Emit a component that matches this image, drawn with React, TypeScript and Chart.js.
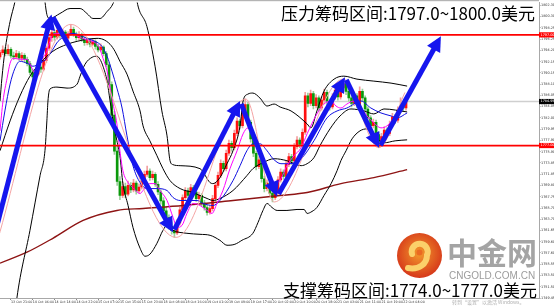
import React, { useEffect, useRef } from 'react';
import { Chart, registerables } from 'chart.js';

Chart.register(...registerables);

// ---------- candle data (H1 bars, index 0..149) ----------
const opens = [
  1793.0, 1793.8, 1794.3, 1793.6, 1794.4, 1793.2, 1793.0, 1793.6, 1792.8, 1793.3,
  1792.6, 1791.8, 1790.2, 1789.4, 1789.9, 1791.2, 1790.8, 1792.4, 1794.6, 1796.5,
  1797.4, 1796.6, 1797.8, 1796.9, 1797.5, 1796.4, 1797.2, 1798.0, 1797.1, 1796.5,
  1797.0, 1796.2, 1795.6, 1796.0, 1795.3, 1795.8, 1794.9, 1794.3, 1794.8, 1793.6,
  1791.6, 1788.0, 1782.5, 1776.0, 1770.5, 1768.0, 1769.6, 1768.2, 1769.8, 1769.0,
  1770.2, 1768.8, 1769.5, 1770.6, 1771.8, 1772.4, 1771.2, 1771.8, 1770.0, 1768.6,
  1767.0, 1765.2, 1764.0, 1762.4, 1761.6, 1761.2, 1763.0, 1765.4, 1767.6, 1768.8,
  1768.0, 1769.4, 1768.6, 1767.4, 1768.0, 1766.6, 1765.8, 1764.9, 1765.6, 1767.4,
  1769.8, 1771.6, 1773.8, 1772.8, 1775.6, 1777.4, 1776.6, 1779.2, 1781.4, 1780.6,
  1783.2, 1784.4, 1781.2, 1778.2, 1775.6, 1773.2, 1774.4, 1771.0, 1769.2, 1770.2,
  1768.4, 1767.6, 1768.6, 1770.8, 1772.2, 1771.4, 1773.6, 1775.0, 1774.2, 1776.8,
  1778.0, 1777.2, 1779.4, 1786.0, 1784.6, 1786.4, 1784.2, 1785.6, 1783.8, 1785.2,
  1786.6, 1785.0, 1784.0, 1785.8, 1787.0, 1785.8, 1787.4, 1788.2, 1786.8, 1785.6,
  1784.6, 1786.0, 1784.4, 1786.8, 1785.6, 1783.6, 1782.0, 1780.6, 1781.2, 1779.0,
  1777.8, 1778.6, 1779.8, 1779.2, 1780.8, 1782.2, 1781.6, 1783.4, 1784.0, 1783.8,
];
const highs = [
  1794.2, 1795.0, 1794.8, 1795.2, 1794.7, 1793.9, 1794.2, 1794.0, 1793.8, 1793.6,
  1793.0, 1792.2, 1790.8, 1790.6, 1791.8, 1791.6, 1792.9, 1795.0, 1797.0, 1798.2,
  1797.9, 1798.4, 1798.1, 1798.0, 1797.8, 1797.6, 1798.9, 1798.4, 1797.5, 1797.6,
  1797.3, 1796.6, 1796.5, 1796.3, 1796.3, 1796.1, 1795.3, 1795.4, 1795.0, 1794.0,
  1792.0, 1788.5, 1783.2, 1777.0, 1771.4, 1770.4, 1770.2, 1770.6, 1770.3, 1770.9,
  1770.6, 1770.1, 1771.2, 1772.4, 1773.3, 1772.8, 1772.4, 1772.1, 1770.5, 1769.0,
  1767.6, 1765.9, 1764.5, 1763.2, 1762.3, 1763.6, 1765.9, 1768.1, 1769.4, 1769.3,
  1770.0, 1769.8, 1769.0, 1768.6, 1768.3, 1767.1, 1766.2, 1766.2, 1768.0, 1770.3,
  1772.2, 1774.4, 1774.2, 1776.2, 1778.0, 1777.8, 1779.8, 1782.0, 1781.8, 1783.8,
  1785.4, 1784.8, 1781.6, 1778.7, 1776.0, 1775.0, 1774.8, 1771.5, 1770.8, 1770.6,
  1768.9, 1769.2, 1771.4, 1772.8, 1772.6, 1774.2, 1775.6, 1775.4, 1777.4, 1778.6,
  1778.4, 1780.0, 1786.6, 1786.5, 1787.0, 1786.8, 1786.2, 1786.0, 1785.8, 1787.2,
  1787.0, 1785.4, 1786.4, 1787.6, 1787.4, 1788.0, 1789.0, 1788.6, 1787.2, 1786.0,
  1786.6, 1786.4, 1787.6, 1787.2, 1786.0, 1784.0, 1782.4, 1781.8, 1781.6, 1779.4,
  1779.2, 1780.4, 1780.2, 1781.4, 1782.8, 1782.6, 1784.0, 1785.6, 1784.4, 1786.0,
];
const lows = [
  1792.6, 1793.4, 1793.2, 1793.3, 1792.8, 1792.5, 1792.7, 1792.4, 1792.3, 1792.1,
  1791.4, 1789.8, 1788.6, 1789.0, 1789.6, 1790.2, 1790.5, 1792.0, 1794.2, 1795.8,
  1796.0, 1796.2, 1796.4, 1796.5, 1795.9, 1796.0, 1796.9, 1796.7, 1796.0, 1796.1,
  1795.8, 1795.1, 1795.2, 1794.8, 1795.0, 1794.4, 1793.9, 1794.0, 1793.2, 1791.2,
  1787.4, 1781.8, 1775.4, 1769.8, 1767.2, 1767.6, 1767.6, 1767.9, 1768.5, 1768.6,
  1768.2, 1768.4, 1769.1, 1770.2, 1771.4, 1770.7, 1770.8, 1769.6, 1768.1, 1766.4,
  1764.7, 1763.5, 1761.9, 1761.0, 1760.4, 1760.9, 1762.6, 1765.0, 1767.2, 1767.4,
  1767.6, 1768.0, 1766.9, 1767.0, 1766.1, 1765.3, 1764.4, 1764.6, 1765.2, 1767.0,
  1769.4, 1771.2, 1772.3, 1772.4, 1775.2, 1776.0, 1776.2, 1778.8, 1780.0, 1780.2,
  1782.8, 1780.6, 1777.6, 1775.0, 1772.6, 1772.8, 1770.4, 1768.6, 1768.8, 1767.8,
  1766.8, 1767.2, 1768.2, 1770.4, 1770.9, 1771.0, 1773.2, 1773.6, 1773.8, 1776.4,
  1776.6, 1776.8, 1779.0, 1784.0, 1784.2, 1783.6, 1783.8, 1783.2, 1783.4, 1784.8,
  1784.4, 1783.4, 1783.6, 1785.4, 1785.2, 1785.4, 1787.0, 1786.2, 1785.0, 1784.0,
  1784.2, 1783.8, 1784.0, 1785.0, 1783.0, 1781.4, 1780.0, 1780.2, 1778.4, 1776.6,
  1777.4, 1778.2, 1778.6, 1778.8, 1780.4, 1781.0, 1781.2, 1783.0, 1783.2, 1783.4,
];
const closes = [
  1793.8, 1794.3, 1793.6, 1794.4, 1793.2, 1793.0, 1793.6, 1792.8, 1793.3, 1792.6,
  1791.8, 1790.2, 1789.4, 1789.9, 1791.2, 1790.8, 1792.4, 1794.6, 1796.5, 1797.4,
  1796.6, 1797.8, 1796.9, 1797.5, 1796.4, 1797.2, 1798.0, 1797.1, 1796.5, 1797.0,
  1796.2, 1795.6, 1796.0, 1795.3, 1795.8, 1794.9, 1794.3, 1794.8, 1793.6, 1791.6,
  1788.0, 1782.5, 1776.0, 1770.5, 1768.0, 1769.6, 1768.2, 1769.8, 1769.0, 1770.2,
  1768.8, 1769.5, 1770.6, 1771.8, 1772.4, 1771.2, 1771.8, 1770.0, 1768.6, 1767.0,
  1765.2, 1764.0, 1762.4, 1761.6, 1761.2, 1763.0, 1765.4, 1767.6, 1768.8, 1768.0,
  1769.4, 1768.6, 1767.4, 1768.0, 1766.6, 1765.8, 1764.9, 1765.6, 1767.4, 1769.8,
  1771.6, 1773.8, 1772.8, 1775.6, 1777.4, 1776.6, 1779.2, 1781.4, 1780.6, 1783.2,
  1784.4, 1781.2, 1778.2, 1775.6, 1773.2, 1774.4, 1771.0, 1769.2, 1770.2, 1768.4,
  1767.6, 1768.6, 1770.8, 1772.2, 1771.4, 1773.6, 1775.0, 1774.2, 1776.8, 1778.0,
  1777.2, 1779.4, 1786.0, 1784.6, 1786.4, 1784.2, 1785.6, 1783.8, 1785.2, 1786.6,
  1785.0, 1784.0, 1785.8, 1787.0, 1785.8, 1787.4, 1788.2, 1786.8, 1785.6, 1784.6,
  1786.0, 1784.4, 1786.8, 1785.6, 1783.6, 1782.0, 1780.6, 1781.2, 1779.0, 1777.8,
  1778.6, 1779.8, 1779.2, 1780.8, 1782.2, 1781.6, 1783.4, 1784.0, 1783.8, 1784.95,
];

// ---------- indicator lines, [bar index, price] ----------
const upperBand: [number, number][] = [
  [0, 1785.04], [0.7, 1789.18], [1.8, 1794.03], [3.7, 1799.42], [5.5, 1803.02], [6.2, 1804.8],
  [10, 1809], [14, 1809], [16.1, 1804.8], [16.5, 1803.0], [17.2, 1800.68], [18.3, 1799.96],
  [22.0, 1800.86], [25.7, 1801.76], [29.4, 1801.76], [31.9, 1800.86], [34.1, 1799.96], [36.7, 1799.96],
  [39.3, 1801.22], [41.5, 1802.66], [42.9, 1804.8], [46, 1812], [49, 1808], [50.3, 1803.0],
  [53.9, 1798.53], [56.9, 1791.33], [59.4, 1783.25], [61.3, 1778.75], [62.4, 1774.26], [63.5, 1773.54],
  [66.1, 1773.36], [73.4, 1772.82], [77.1, 1770.3], [78.2, 1770.12], [80.7, 1771.2], [83.3, 1773.72],
  [85.5, 1776.06], [88.1, 1780.55], [89.2, 1785.04], [91.0, 1786.3], [92.8, 1786.48], [95.4, 1785.58],
  [98.0, 1784.14], [100.6, 1784.5], [102.8, 1783.96], [106.8, 1783.25], [112.7, 1780.91], [114.1, 1780.19],
  [116.3, 1783.25], [118.9, 1786.84], [122.6, 1789.0], [126.2, 1789.54], [131.0, 1789.0], [137.2, 1788.64],
  [143.5, 1788.28], [149.4, 1787.74],
];
const middleBand: [number, number][] = [
  [0, 1776.06], [3.7, 1781.45], [7.3, 1785.94], [11.0, 1789.54], [14.7, 1791.87], [19.4, 1794.03],
  [24.6, 1795.29], [28.3, 1795.83], [31.9, 1796.19], [35.6, 1796.37], [37.8, 1796.19], [40.4, 1795.29],
  [42.2, 1794.03], [44.0, 1792.23], [46.6, 1789.9], [48.8, 1786.84], [51.4, 1783.25], [52.5, 1780.55],
  [55.0, 1777.85], [57.6, 1775.16], [59.8, 1772.82], [62.4, 1770.66], [66.1, 1769.22], [70.8, 1768.51],
  [76.0, 1767.43], [78.2, 1767.07], [80.7, 1767.43], [85.5, 1768.87], [90.6, 1771.56], [92.8, 1772.82],
  [96.5, 1773.9], [100.6, 1774.62], [105.3, 1774.26], [110.5, 1773.36], [112.7, 1773.72], [115.2, 1774.8],
  [117.4, 1776.95], [121.1, 1780.01], [124.8, 1782.35], [128.8, 1783.61], [133.6, 1783.25], [137.2, 1782.71],
  [140.9, 1783.61], [149.4, 1783.07],
];
const lowerBand: [number, number][] = [
  [3, 1735], [6.2, 1749.45], [11.0, 1761.68], [14.7, 1771.56], [16.5, 1776.06], [17.2, 1781.45],
  [17.6, 1785.04], [18.3, 1787.2], [20.9, 1787.56], [24.6, 1787.38], [28.3, 1788.1], [29.4, 1789.54],
  [31.2, 1791.69], [33.8, 1792.95], [35.6, 1793.13], [36.7, 1792.59], [37.8, 1791.33], [39.3, 1788.64],
  [40.4, 1785.04], [41.5, 1781.45], [42.9, 1777.85], [44.0, 1775.16], [45.1, 1770.12], [47.0, 1766.17],
  [48.8, 1762.21], [51.4, 1758.44], [53.2, 1757.0], [55.0, 1757.36], [57.6, 1759.34], [59.8, 1761.68],
  [61.3, 1762.57], [63.5, 1761.68], [68.6, 1761.14], [73.4, 1760.96], [77.1, 1760.78], [80.7, 1759.88],
  [83.3, 1758.98], [86.2, 1759.16], [88.8, 1759.88], [92.8, 1761.14], [94.7, 1763.11], [96.5, 1765.27],
  [98.0, 1766.53], [99.8, 1765.81], [101.7, 1765.27], [105.3, 1765.27], [109.0, 1765.45], [111.6, 1765.45],
  [112.7, 1764.73], [114.5, 1765.09], [116.3, 1765.81], [118.9, 1767.97], [121.5, 1770.12], [123.7, 1772.46],
  [125.1, 1774.26], [127.0, 1776.06], [129.2, 1778.21], [132.1, 1779.65], [134.7, 1780.01], [137.2, 1778.75],
  [140.9, 1777.49], [145.0, 1777.85], [149.4, 1778.03],
];
const fastMA: [number, number][] = [
  [0, 1779.65], [1.1, 1785.04], [2.6, 1789.18], [3.7, 1791.87], [4.8, 1792.77], [7.3, 1792.59],
  [9.9, 1792.59], [11.7, 1790.98], [12.8, 1790.08], [13.9, 1790.98], [15.4, 1792.59], [17.2, 1794.03],
  [18.3, 1795.83], [19.4, 1797.09], [21.3, 1797.27], [23.9, 1797.09], [26.4, 1797.09], [28.6, 1796.73],
  [31.2, 1796.19], [33.8, 1795.83], [35.6, 1795.29], [36.7, 1794.39], [37.8, 1792.77], [39.3, 1790.44],
  [40.4, 1787.38], [41.5, 1784.5], [42.9, 1780.91], [44.0, 1776.06], [45.1, 1772.46], [47.0, 1770.3],
  [48.8, 1769.4], [51.4, 1768.33], [52.5, 1768.87], [55.0, 1770.12], [56.9, 1770.12], [58.7, 1768.87],
  [61.3, 1767.07], [63.5, 1764.01], [65.0, 1762.21], [66.8, 1762.57], [68.6, 1764.73], [70.8, 1766.53],
  [73.4, 1766.17], [76.0, 1765.27], [77.8, 1764.73], [79.6, 1766.53], [81.8, 1768.87], [84.4, 1772.82],
  [87.0, 1776.06], [89.2, 1779.11], [91.0, 1780.19], [92.8, 1779.65], [94.7, 1777.49], [96.5, 1774.62],
  [98.0, 1772.46], [100.2, 1770.66], [101.3, 1770.12], [103.1, 1771.02], [105.3, 1773.36], [107.9, 1775.16],
  [110.5, 1776.59], [112.7, 1779.11], [116.3, 1782.71], [118.9, 1784.5], [121.5, 1785.04], [123.3, 1784.14],
  [125.1, 1783.78], [127.3, 1784.5], [129.9, 1785.04], [132.5, 1783.78], [134.7, 1782.35], [137.2, 1781.09],
  [139.8, 1780.19], [142.0, 1780.55], [144.6, 1781.99], [147.2, 1783.78], [148.3, 1784.5],
];
const slowMA: [number, number][] = [
  [0, 1777.85], [1.8, 1783.25], [3.7, 1788.1], [5.5, 1790.98], [7.3, 1792.23], [9.9, 1791.87],
  [12.1, 1791.33], [14.7, 1791.87], [17.2, 1792.77], [19.4, 1794.39], [21.3, 1795.83], [23.9, 1796.73],
  [26.4, 1797.27], [28.6, 1797.09], [31.9, 1796.37], [34.9, 1795.83], [37.4, 1794.93], [39.3, 1793.13],
  [41.1, 1790.44], [42.9, 1787.38], [44.8, 1783.78], [46.6, 1778.75], [48.8, 1773.36], [51.4, 1770.3],
  [53.9, 1769.22], [57.6, 1769.22], [61.3, 1768.87], [63.5, 1767.61], [66.1, 1767.07], [68.6, 1767.07],
  [72.3, 1767.07], [74.5, 1766.53], [78.2, 1766.17], [80.7, 1767.07], [85.5, 1770.66], [88.1, 1773.36],
  [90.6, 1776.06], [92.8, 1777.31], [95.4, 1777.31], [98.0, 1776.06], [100.2, 1774.62], [103.1, 1773.72],
  [106.4, 1773.72], [110.5, 1774.62], [115.2, 1777.85], [120.0, 1781.99], [123.7, 1783.25], [127.3, 1783.78],
  [132.5, 1785.04], [136.1, 1783.78], [139.8, 1782.89], [143.5, 1782.35], [145.7, 1781.99], [149.4, 1782.89],
];
const longMA: [number, number][] = [
  [0, 1755.74], [9.9, 1757.72], [19.4, 1760.24], [30.5, 1763.47], [42.9, 1765.27], [52.5, 1765.63],
  [67.2, 1766.17], [85.5, 1767.07], [102.8, 1767.97], [112.7, 1768.51], [125.1, 1770.12], [137.2, 1771.2],
  [149.4, 1772.64],
];
const zigzag: [number, number][] = [
  [-3.7, 1755.4], [26.0, 1798.9], [64.6, 1760.4], [90.2, 1785.4], [100.6, 1766.8], [126.0, 1789.0],
  [139.0, 1776.6], [148.6, 1786.6],
];
// hand-drawn trend arrows (bar index, price)
const arrowPath: [number, number][] = [
  [-1.2, 1762.4], [18.9, 1800.68], [63.5, 1761.31], [88.1, 1785.04], [101.7, 1767.79],
  [126.6, 1789.36], [139.1, 1776.59], [161.8, 1796.73],
];

// ---------- levels & axes ----------
const resistanceLevel = 1797.0;
const supportLevel = 1777.0;
const lastPrice = 1784.95;
const priceTicks = [
  1802.3, 1800.3, 1798.25, 1796.25, 1794.2, 1792.15, 1790.15, 1788.1, 1786.05, 1784.05,
  1782.0, 1779.95, 1777.9, 1775.9, 1773.85, 1771.85, 1769.8, 1767.75, 1765.7, 1763.7,
  1761.65, 1759.6, 1757.6, 1755.55, 1753.5, 1751.5, 1749.45,
];
const timeLabelBars = [4, 12, 20, 28, 36, 44, 52, 60, 68, 76, 84, 92, 100, 108, 116, 124, 132, 140, 148];
const timeLabels = [
  '13 Oct 21:00', '14 Oct 06:00', '14 Oct 14:00', '14 Oct 22:00', '15 Oct 07:00', '15 Oct 15:00',
  '15 Oct 23:00', '18 Oct 08:00', '18 Oct 16:00', '19 Oct 01:00', '19 Oct 09:00', '19 Oct 17:00',
  '20 Oct 02:00', '20 Oct 10:00', '20 Oct 18:00', '21 Oct 03:00', '21 Oct 11:00', '21 Oct 19:00',
  '22 Oct 04:00',
];
const X_MIN = 0;
const X_MAX = 197.8;
const Y_MIN = 1749.45;
const Y_MAX = 1802.84;

const ARROW_COLOR = 'rgb(22,22,238)';

const overlayPlugin = {
  id: 'overlayPlugin',
  afterDatasetsDraw(chart: any) {
    const { ctx, chartArea, scales } = chart;
    const xs = scales.x;
    const ys = scales.y;
    ctx.save();
    ctx.beginPath();
    ctx.rect(chartArea.left, chartArea.top, chartArea.right - chartArea.left, chartArea.bottom - chartArea.top);
    ctx.clip();
    ctx.strokeStyle = ARROW_COLOR;
    ctx.fillStyle = ARROW_COLOR;
    ctx.lineWidth = 5;
    ctx.lineCap = 'butt';
    for (let k = 1; k < arrowPath.length; k++) {
      const x0 = xs.getPixelForValue(arrowPath[k - 1][0]);
      const y0 = ys.getPixelForValue(arrowPath[k - 1][1]);
      const x1 = xs.getPixelForValue(arrowPath[k][0]);
      const y1 = ys.getPixelForValue(arrowPath[k][1]);
      const dx = x1 - x0;
      const dy = y1 - y0;
      const len = Math.hypot(dx, dy);
      const ux = dx / len;
      const uy = dy / len;
      const headLen = 15;
      const headW = 7.5;
      const bx = x1 - ux * headLen;
      const by = y1 - uy * headLen;
      ctx.beginPath();
      ctx.moveTo(x0 + ux * 3, y0 + uy * 3);
      ctx.lineTo(bx + ux * 2, by + uy * 2);
      ctx.stroke();
      ctx.beginPath();
      ctx.moveTo(x1, y1);
      ctx.lineTo(bx - uy * headW, by + ux * headW);
      ctx.lineTo(bx + uy * headW, by - ux * headW);
      ctx.closePath();
      ctx.fill();
    }
    ctx.restore();
  },
  afterDraw(chart: any) {
    const { ctx, chartArea, scales } = chart;
    const ys = scales.y;
    ctx.save();
    // chart frame top
    ctx.fillStyle = '#b4b4b4';
    ctx.fillRect(0, 0, chartArea.right, 1.2);
    // price tags on the axis
    const tags: [number, string, string][] = [
      [resistanceLevel, '#ff0000', resistanceLevel.toFixed(2)],
      [supportLevel, '#ff0000', supportLevel.toFixed(2)],
      [lastPrice, '#000000', lastPrice.toFixed(2)],
    ];
    for (const [v, c, t] of tags) {
      const yp = ys.getPixelForValue(v);
      ctx.fillStyle = c;
      ctx.fillRect(chartArea.right, yp - 2.6, 15, 5.2);
      ctx.fillStyle = '#ffffff';
      ctx.font = '3.4px "DejaVu Sans"';
      ctx.textBaseline = 'middle';
      ctx.textAlign = 'left';
      ctx.fillText(t, chartArea.right + 1.5, yp);
    }
    ctx.restore();
  },
};

function toPoints(arr: [number, number][]) {
  return arr.map(([x, y]) => ({ x, y }));
}

function lineDs(arr: [number, number][], color: string, width: number, order: number) {
  return {
    type: 'line',
    data: toPoints(arr),
    borderColor: color,
    borderWidth: width,
    pointRadius: 0,
    fill: false,
    cubicInterpolationMode: 'monotone',
    order,
  };
}

export default function App() {
  const ref = useRef<HTMLCanvasElement>(null);

  useEffect(() => {
    const up = opens.map((o, i) => closes[i] >= o);
    const wickData = highs.map((h, i) => ({ x: i, y: [lows[i], h] }));
    const bodyData = opens.map((o, i) => ({ x: i, y: [o, closes[i]] }));

    const chart = new Chart(ref.current as HTMLCanvasElement, {
      type: 'bar',
      data: {
        datasets: [
          lineDs([[X_MIN, lastPrice], [X_MAX, lastPrice]], '#cfcfcf', 1.6, 12),
          {
            type: 'bar',
            data: wickData,
            backgroundColor: up.map((u) => (u ? '#f3a0a0' : '#9ccf9c')),
            barThickness: 1,
            grouped: false,
            order: 11,
          },
          {
            type: 'bar',
            data: bodyData,
            backgroundColor: up.map((u) => (u ? '#ff1010' : '#0a990a')),
            barThickness: 2,
            grouped: false,
            minBarLength: 1,
            order: 10,
          },
          lineDs(longMA, '#8e1414', 1.4, 9),
          lineDs(upperBand, '#000000', 1, 8),
          lineDs(middleBand, '#000000', 1, 8),
          lineDs(lowerBand, '#000000', 1, 8),
          lineDs(slowMA, '#1010e0', 1, 7),
          lineDs(fastMA, '#ff00ff', 1, 6),
          lineDs(zigzag, '#f4a4a4', 1, 5),
          lineDs([[X_MIN, resistanceLevel], [X_MAX, resistanceLevel]], '#ff0000', 1.8, 4),
          lineDs([[X_MIN, supportLevel], [X_MAX, supportLevel]], '#ff0000', 1.8, 4),
        ] as any,
      },
      options: {
        animation: false,
        responsive: false,
        maintainAspectRatio: false,
        events: [],
        layout: { padding: { top: 1, left: 0, right: 0, bottom: 0 } },
        plugins: { legend: { display: false }, tooltip: { enabled: false } },
        scales: {
          x: {
            type: 'linear',
            min: X_MIN,
            max: X_MAX,
            offset: false,
            grid: { display: true, drawOnChartArea: false, drawTicks: true, tickLength: 2, color: '#8a8a8a', offset: false },
            border: { display: true, color: '#a8a8a8' },
            ticks: {
              autoSkip: false,
              maxRotation: 0,
              minRotation: 0,
              align: 'start',
              padding: 0,
              color: '#333333',
              font: { size: 3.3, family: 'DejaVu Sans' },
              callback: (v: any) => {
                const k = timeLabelBars.indexOf(Number(v));
                return k >= 0 ? timeLabels[k] : '';
              },
            },
            afterBuildTicks: (s: any) => {
              s.ticks = timeLabelBars.map((v) => ({ value: v }));
            },
            afterFit: (s: any) => {
              s.height = 8;
            },
          },
          y: {
            type: 'linear',
            position: 'right',
            min: Y_MIN,
            max: Y_MAX,
            grid: { display: true, drawOnChartArea: false, drawTicks: true, tickLength: 1.5, color: '#8a8a8a' },
            border: { display: true, color: '#a8a8a8' },
            ticks: {
              autoSkip: false,
              padding: 0.5,
              color: '#333333',
              font: { size: 3.4, family: 'DejaVu Sans' },
              callback: (v: any) => Number(v).toFixed(2),
            },
            afterBuildTicks: (s: any) => {
              s.ticks = priceTicks.map((v) => ({ value: v }));
            },
            afterFit: (s: any) => {
              s.width = 15;
            },
          },
        },
      } as any,
      plugins: [overlayPlugin],
    });
    return () => chart.destroy();
  }, []);

  const cjk = '"Noto Sans CJK SC", "Noto Sans", sans-serif';

  return (
    <div style={{ position: 'fixed', left: 0, top: 0, width: 554, height: 306, background: '#ffffff', overflow: 'hidden' }}>
      <canvas ref={ref} width={554} height={306} style={{ position: 'absolute', left: 0, top: 0, width: 554, height: 306 }} />
      <svg style={{ position: 'absolute', left: 397, top: 233 }} width={45} height={45} viewBox="0 0 45 45">
        <defs>
          <radialGradient id="logoGrad" cx="50%" cy="45%" r="55%">
            <stop offset="0%" stopColor="#f39a2c" />
            <stop offset="100%" stopColor="#d6381a" />
          </radialGradient>
        </defs>
        <circle cx={22.5} cy={22.5} r={22.5} fill="url(#logoGrad)" />
        <path d="M 15 21 A 8 8 0 1 1 30 22 C 30 31 22 37 11 35" fill="none" stroke="#fbd06a" strokeWidth={6} strokeLinecap="round" />
        <circle cx={22.5} cy={19.5} r={3} fill="#ea6a22" />
      </svg>
      <div style={{ position: 'absolute', left: 447, top: 234, fontFamily: cjk, fontWeight: 700, fontSize: 30, lineHeight: '34px', color: '#a4a4a4', whiteSpace: 'nowrap' }}>
        中金网
      </div>
      <div style={{ position: 'absolute', left: 449, top: 270, fontFamily: '"Liberation Sans", sans-serif', fontSize: 10, lineHeight: '12px', color: '#9c9c9c', whiteSpace: 'nowrap' }}>
        CNGOLD.COM.CN
      </div>
      <div style={{ position: 'absolute', left: 452, top: 298, fontFamily: cjk, fontSize: 5, lineHeight: '7px', color: '#b0b0b0', whiteSpace: 'nowrap' }}>
        转到“设置”以激活 Windows。
      </div>
      <div style={{ position: 'absolute', left: 281, top: 2, fontFamily: cjk, fontSize: 17, lineHeight: '22px', color: '#000000', whiteSpace: 'nowrap' }}>
        压力筹码区间:1797.0~1800.0美元
      </div>
      <div style={{ position: 'absolute', left: 283, top: 279, fontFamily: cjk, fontSize: 17, lineHeight: '22px', color: '#000000', whiteSpace: 'nowrap' }}>
        支撑筹码区间:1774.0~1777.0美元
      </div>
    </div>
  );
}
